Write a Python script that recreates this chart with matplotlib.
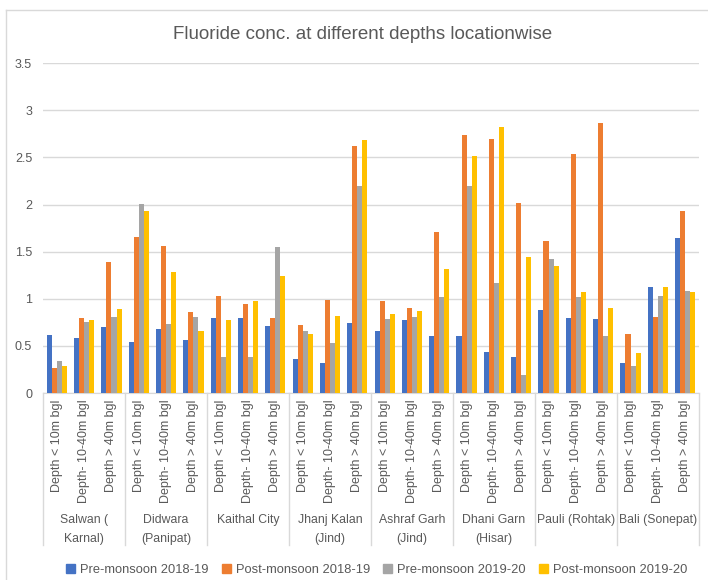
import numpy as np
import matplotlib

matplotlib.use("Agg")
import matplotlib.pyplot as plt  # noqa: E402
from matplotlib.lines import Line2D  # noqa: E402
from matplotlib.patches import Patch  # noqa: E402

plt.rcParams["font.family"] = ["Liberation Sans", "DejaVu Sans"]

locations = ["Salwan (\nKarnal)", "Didwara\n(Panipat)", "Kaithal City",
             "Jhanj Kalan\n(Jind)", "Ashraf Garh\n(Jind)", "Dhani Garn\n(Hisar)",
             "Pauli (Rohtak)", "Bali (Sonepat)"]
depths = ["Depth < 10m bgl", "Depth- 10-40m bgl", "Depth > 40m bgl"]
series = ["Pre-monsoon 2018-19", "Post-monsoon 2018-19",
          "Pre-monsoon 2019-20", "Post-monsoon 2019-20"]
colors = ["#4472c4", "#ed7d31", "#a5a5a5", "#ffc000"]

pre_1819 = [0.62, 0.58, 0.70, 0.54, 0.68, 0.56, 0.80, 0.80, 0.71,
            0.36, 0.32, 0.74, 0.66, 0.78, 0.60, 0.60, 0.43, 0.38,
            0.88, 0.80, 0.79, 0.32, 1.13, 1.65]
post_1819 = [0.27, 0.80, 1.39, 1.66, 1.56, 0.86, 1.03, 0.94, 0.80,
             0.72, 0.99, 2.62, 0.98, 0.90, 1.71, 2.74, 2.70, 2.02,
             1.61, 2.54, 2.87, 0.63, 0.81, 1.93]
pre_1920 = [0.34, 0.75, 0.81, 2.01, 0.73, 0.81, 0.38, 0.38, 1.55,
            0.66, 0.53, 2.20, 0.79, 0.81, 1.02, 2.20, 1.17, 0.19,
            1.42, 1.02, 0.60, 0.29, 1.03, 1.08]
post_1920 = [0.29, 0.77, 0.89, 1.93, 1.28, 0.66, 0.78, 0.98, 1.24,
             0.63, 0.82, 2.68, 0.84, 0.87, 1.32, 2.52, 2.82, 1.44,
             1.35, 1.07, 0.90, 0.42, 1.12, 1.07]
values = [pre_1819, post_1819, pre_1920, post_1920]

fig = plt.figure(figsize=(7.08, 5.8), dpi=100)
ax = fig.add_axes([0.061, 0.3224, 0.926, 0.5686])

n = len(locations) * len(depths)
x = np.arange(n)
w = 0.185
for i, (vals, c) in enumerate(zip(values, colors)):
    ax.bar(x + (i - 1.5) * w, vals, width=w, color=c, zorder=3)

ax.set_xlim(-0.5, n - 0.5)
ax.set_ylim(0, 3.5)
ax.set_yticks(np.arange(0, 3.51, 0.5))
ax.set_yticklabels(["0", "0.5", "1", "1.5", "2", "2.5", "3", "3.5"])
ax.tick_params(axis="y", length=0, colors="#595959", labelsize=9, pad=8)
ax.set_xticks([])
ax.grid(axis="y", color="#d9d9d9", lw=1, zorder=0)
for s in ["left", "right", "top"]:
    ax.spines[s].set_visible(False)
ax.spines["bottom"].set_color("#d9d9d9")

trans = ax.get_xaxis_transform()
grey = "#595959"
for k in range(n):
    ax.text(k, -0.02, depths[k % 3], rotation=90, ha="center", va="top",
            fontsize=9, color=grey, transform=trans)
for j, loc in enumerate(locations):
    ax.text(3 * j + 1, -0.368, loc, ha="center", va="top", fontsize=8.8,
            color=grey, transform=trans, linespacing=1.75)
for j in range(len(locations) + 1):
    ax.add_line(Line2D([3 * j - 0.5] * 2, [0, -0.46], transform=trans,
                       color="#d9d9d9", lw=1, clip_on=False))

fig.suptitle("Fluoride conc. at different depths locationwise", x=0.512,
             y=0.955, fontsize=13.5, color=grey)

handles = [Patch(color=c) for c in colors]
fig.legend(handles, series, loc="center", bbox_to_anchor=(0.532, 0.017),
           ncol=4, frameon=False, fontsize=9.3, handlelength=0.7,
           handleheight=0.7, columnspacing=1.0, handletextpad=0.4,
           labelcolor=grey)

fig.add_artist(Line2D([6 / 708, 6 / 708], [0, 1 - 10 / 580],
                      transform=fig.transFigure, color="#d9d9d9", lw=1))
fig.add_artist(Line2D([6 / 708, 1], [1 - 10 / 580] * 2,
                      transform=fig.transFigure, color="#d9d9d9", lw=1))

fig.savefig("out.png", dpi=100)
